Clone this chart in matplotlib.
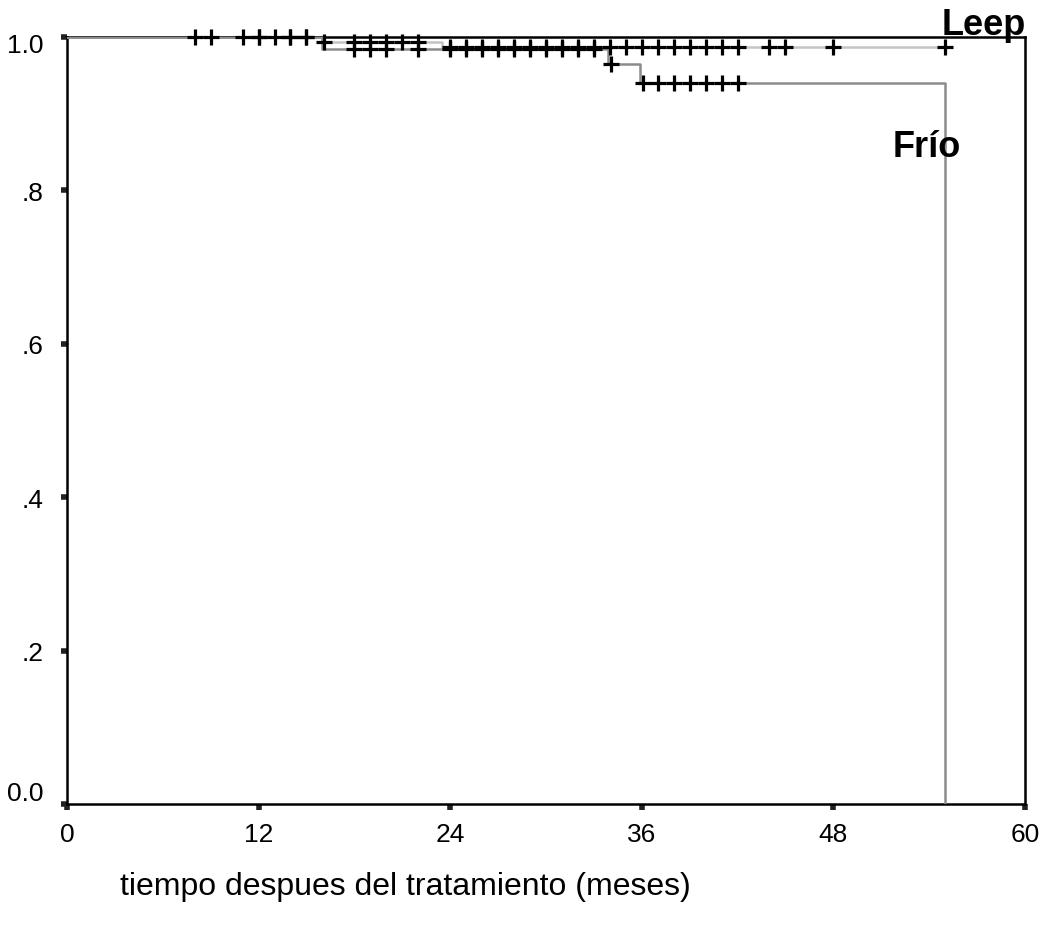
import numpy as np
import matplotlib
matplotlib.use("Agg")
import matplotlib.pyplot as plt
from matplotlib.transforms import ScaledTranslation

plt.rcParams['font.family'] = ['Liberation Sans', 'DejaVu Sans']

# Kaplan-Meier step data (time in months, survival)
leep_times = [0, 16, 23.5, 55]
leep_surv = [1.0, 0.993, 0.987, 0.987]
frio_times = [0, 16, 33.9, 35.9, 55]
frio_surv = [1.0, 0.985, 0.965, 0.94, 0.0]

# censored observations
leep_censor = [8, 9, 11, 12, 13, 14, 15, 16.1, 18, 19, 20, 21, 22,
               24, 25, 26, 27, 28, 29, 30, 31, 32, 33, 34, 35, 36, 37,
               38, 39, 40, 41, 42, 44, 45, 48, 55]
frio_censor = [12, 14, 15, 18, 19, 20, 22, 24, 25, 26, 27, 28, 29, 30,
               31, 32, 33, 34.1, 36.1, 37, 38, 39, 40, 41, 42]

xticks = [0, 12, 24, 36, 48, 60]
yticks = [0.0, 0.2, 0.4, 0.6, 0.8, 1.0]
ytick_labels = ["0.0", ".2", ".4", ".6", ".8", "1.0"]
xlabel = "tiempo despues del tratamiento (meses)"


def surv_at(times, surv, t):
    idx = np.searchsorted(np.asarray(times), np.asarray(t), side='right') - 1
    return np.asarray(surv)[idx]


fig = plt.figure(figsize=(10.48, 9.37), dpi=100)
ax = fig.add_axes([0.0639, 0.1409, 0.9141, 0.8185])

ax.step(leep_times, leep_surv, where='post', color='#c4c4c4', lw=1.8, zorder=3)
ax.step(frio_times, frio_surv, where='post', color='#8c8c8c', lw=1.8, zorder=3)

ax.plot(leep_censor, surv_at(leep_times, leep_surv, leep_censor), ls='none',
        marker='+', ms=11, mew=2.3, color='black', zorder=4, clip_on=False)
ax.plot(frio_censor, surv_at(frio_times, frio_surv, frio_censor), ls='none',
        marker='+', ms=11, mew=2.3, color='black', zorder=4, clip_on=False)

ax.set_xlim(0, 60)
ax.set_ylim(0, 1)
ax.set_xticks(xticks)
ax.set_xticklabels([str(v) for v in xticks])
ax.set_yticks(yticks)
ax.set_yticklabels(ytick_labels)
for s in ax.spines.values():
    s.set_linewidth(1.8)
    s.set_color('black')
ax.tick_params(direction='out', length=4, width=4, color='#222222',
               labelsize=19)
ax.tick_params(axis='y', pad=13)
ax.tick_params(axis='x', pad=9)

# nudge first and last y tick labels like the reference
ylabels = ax.get_yticklabels()
ylabels[0].set_transform(ylabels[0].get_transform() +
                         ScaledTranslation(0, 10 / 72, fig.dpi_scale_trans))
ylabels[-1].set_transform(ylabels[-1].get_transform() +
                          ScaledTranslation(0, -4 / 72, fig.dpi_scale_trans))

ax.text(54.8, 1.004, "Leep", fontsize=26, fontweight='bold', ha='left',
        va='baseline', clip_on=False)
ax.text(51.7, 0.845, "Frío", fontsize=26, fontweight='bold', ha='left',
        va='baseline')

fig.text(120 / 1048, 1 - 887 / 937, xlabel, fontsize=23, ha='left',
         va='center')

fig.savefig("out.png", dpi=100)
